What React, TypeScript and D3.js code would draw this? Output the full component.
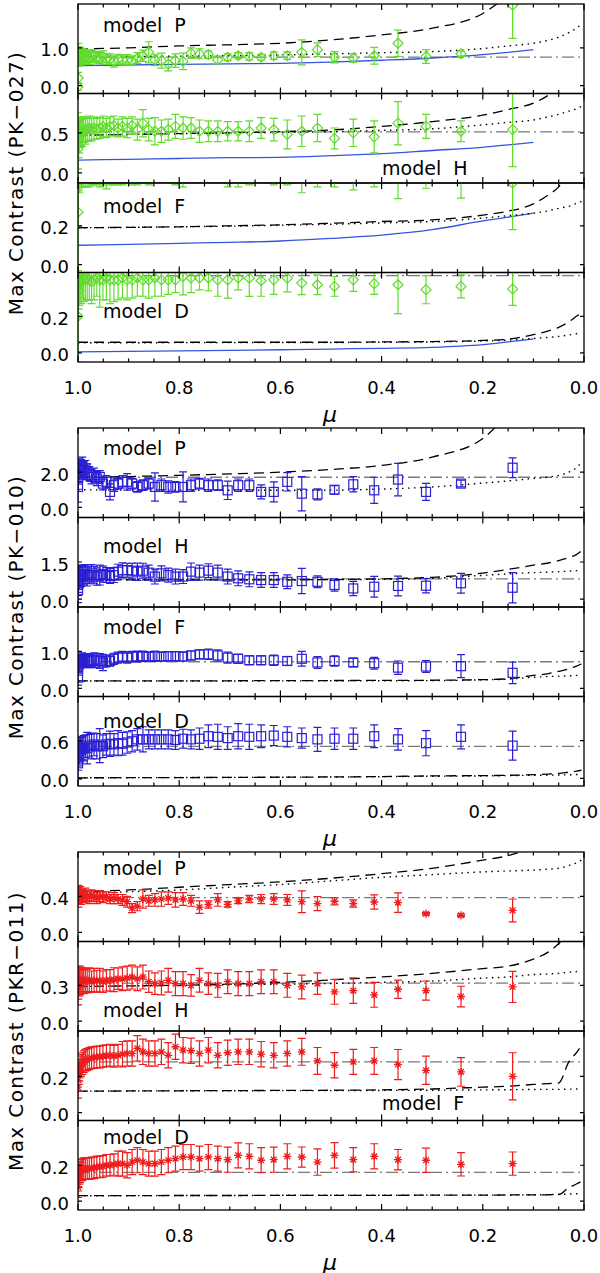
import * as d3 from 'd3';

// limb distance grid of the observed points (mu = cos theta)
const MU = [
  0.99995, 0.99955, 0.99875, 0.99755, 0.99594, 0.99393, 0.99151, 0.98869, 0.98544, 0.98178,
  0.9777, 0.97319, 0.96825, 0.96286, 0.95703, 0.95074, 0.94398, 0.93675, 0.92903, 0.92081,
  0.91209, 0.90283, 0.89303, 0.88267, 0.87172, 0.86017, 0.848, 0.83516, 0.82164, 0.8074,
  0.7924, 0.7766, 0.75993, 0.74236, 0.72381, 0.7042, 0.68345, 0.66144, 0.63805, 0.6131,
  0.58643, 0.55776, 0.52678, 0.49305, 0.45596, 0.41461, 0.36756, 0.31225, 0.2431, 0.14107,
];

// ---- PK-027 (green diamonds)
const PK027_P = [
  -0.03, 0.2, 0.82, 0.77, 0.79, 0.75, 0.77, 0.79, 0.75, 0.77,
  0.73, 0.77, 0.79, 0.75, 0.73, 0.77, 0.7, 0.7, 0.64, 0.7,
  0.68, 0.68, 0.66, 0.73, 0.79, 0.88, 0.68, 0.66, 0.57, 0.66,
  0.64, 0.86, 0.84, 0.82, 0.68, 0.75, 0.79, 0.77, 0.75, 0.79,
  0.79, 0.88, 0.95, 0.75, 0.73, 0.79, 1.12, 0.77, 0.84, 2.13,
];
const PK027_P_ERR = [
  0.1, 0.15, 0.3, 0.25, 0.22, 0.2, 0.2, 0.18, 0.18, 0.17,
  0.17, 0.16, 0.16, 0.15, 0.15, 0.15, 0.14, 0.14, 0.15, 0.13,
  0.13, 0.14, 0.12, 0.14, 0.15, 0.28, 0.15, 0.2, 0.18, 0.18,
  0.22, 0.14, 0.13, 0.1, 0.1, 0.09, 0.08, 0.1, 0.08, 0.1,
  0.1, 0.33, 0.18, 0.15, 0.11, 0.22, 0.35, 0.18, 0.07, 0.88,
];
const PK027_H = [
  0.3, 0.35, 0.41, 0.45, 0.5, 0.52, 0.5, 0.54, 0.52, 0.54,
  0.56, 0.54, 0.56, 0.55, 0.56, 0.58, 0.56, 0.58, 0.59, 0.56,
  0.58, 0.56, 0.59, 0.54, 0.62, 0.54, 0.52, 0.52, 0.54, 0.58,
  0.56, 0.56, 0.52, 0.52, 0.52, 0.52, 0.52, 0.52, 0.56, 0.54,
  0.48, 0.52, 0.56, 0.43, 0.5, 0.45, 0.62, 0.58, 0.52, 0.54,
];
const PK027_H_ERR = [
  0.45, 0.3, 0.22, 0.2, 0.18, 0.18, 0.17, 0.16, 0.16, 0.15,
  0.15, 0.14, 0.14, 0.13, 0.13, 0.13, 0.12, 0.12, 0.12, 0.11,
  0.12, 0.12, 0.11, 0.13, 0.17, 0.14, 0.17, 0.14, 0.13, 0.15,
  0.14, 0.13, 0.14, 0.13, 0.13, 0.12, 0.12, 0.13, 0.13, 0.14,
  0.18, 0.19, 0.17, 0.13, 0.17, 0.2, 0.27, 0.15, 0.13, 0.46,
];
const PK027_F = [
  0.27, 0.4, 0.52, 0.49, 0.51, 0.53, 0.5, 0.52, 0.54, 0.51,
  0.5, 0.53, 0.52, 0.5, 0.52, 0.51, 0.53, 0.52, 0.5, 0.51,
  0.53, 0.52, 0.5, 0.52, 0.54, 0.51, 0.5, 0.53, 0.52, 0.5,
  0.52, 0.51, 0.53, 0.52, 0.5, 0.51, 0.52, 0.5, 0.53, 0.51,
  0.52, 0.52, 0.5, 0.5, 0.5, 0.52, 0.55, 0.5, 0.5, 0.42,
];
const PK027_F_ERR = [
  0.3, 0.2, 0.14, 0.12, 0.11, 0.13, 0.1, 0.12, 0.14, 0.11,
  0.1, 0.12, 0.11, 0.09, 0.12, 0.1, 0.14, 0.11, 0.09, 0.1,
  0.12, 0.1, 0.09, 0.11, 0.12, 0.1, 0.08, 0.11, 0.1, 0.09,
  0.12, 0.09, 0.11, 0.1, 0.08, 0.11, 0.12, 0.09, 0.11, 0.1,
  0.11, 0.15, 0.1, 0.1, 0.115, 0.12, 0.21, 0.107, 0.158, 0.24,
];
const PK027_D = [
  0.2, 0.34, 0.38, 0.39, 0.4, 0.39, 0.41, 0.4, 0.4, 0.41,
  0.4, 0.39, 0.4, 0.41, 0.4, 0.4, 0.41, 0.4, 0.4, 0.4,
  0.41, 0.4, 0.4, 0.41, 0.4, 0.4, 0.41, 0.4, 0.4, 0.4,
  0.418, 0.41, 0.41, 0.41, 0.4, 0.4, 0.41, 0.409, 0.395, 0.4,
  0.409, 0.382, 0.373, 0.364, 0.4, 0.379, 0.373, 0.346, 0.364, 0.35,
];
const PK027_D_ERR = [
  0.25, 0.15, 0.14, 0.13, 0.12, 0.12, 0.11, 0.12, 0.11, 0.12,
  0.11, 0.12, 0.11, 0.1, 0.15, 0.11, 0.12, 0.13, 0.12, 0.11,
  0.11, 0.11, 0.1, 0.1, 0.09, 0.1, 0.1, 0.09, 0.08, 0.07,
  0.1, 0.08, 0.065, 0.07, 0.09, 0.1, 0.065, 0.1, 0.085, 0.08,
  0.075, 0.063, 0.054, 0.054, 0.063, 0.059, 0.158, 0.077, 0.063, 0.09,
];

// ---- PK-010 (blue squares)
const PK010_P = [
  1.16, 1.73, 1.92, 2.11, 2.3, 2.21, 2.3, 2.11, 2.21, 2.02,
  1.92, 1.73, 1.83, 1.64, 1.73, 1.35, 1.45, 0.88, 1.26, 1.35,
  1.45, 1.45, 1.35, 1.16, 1.26, 1.35, 1.16, 1.26, 1.16, 1.16,
  1.16, 1.26, 1.35, 1.26, 1.26, 0.97, 1.26, 1.26, 0.88, 0.88,
  1.45, 0.78, 0.74, 1.0, 1.31, 0.97, 1.58, 0.88, 1.35, 2.25,
];
const PK010_P_ERR = [
  0.86, 0.7, 0.6, 0.55, 0.5, 0.5, 0.55, 0.5, 0.45, 0.45,
  0.4, 0.4, 0.4, 0.4, 0.35, 0.35, 0.35, 0.45, 0.35, 0.3,
  0.35, 0.47, 0.3, 0.3, 0.3, 0.3, 0.8, 0.35, 0.35, 0.3,
  0.85, 0.35, 0.3, 0.35, 0.3, 0.52, 0.35, 0.35, 0.4, 0.57,
  0.52, 0.97, 0.31, 0.24, 0.43, 0.74, 0.92, 0.48, 0.19, 0.56,
];
const PK010_H = [
  0.36, 0.64, 0.77, 0.84, 0.91, 0.91, 0.97, 0.97, 1.01, 0.91,
  0.97, 1.04, 0.97, 0.91, 0.97, 1.01, 0.97, 0.93, 0.97, 1.11,
  1.17, 1.17, 1.15, 1.11, 1.15, 1.07, 0.91, 1.04, 0.97, 0.91,
  0.91, 1.11, 1.07, 1.15, 1.07, 0.91, 0.84, 0.8, 0.77, 0.77,
  0.7, 0.73, 0.7, 0.57, 0.43, 0.5, 0.53, 0.54, 0.64, 0.46,
];
const PK010_H_ERR = [
  0.5, 0.5, 0.5, 0.45, 0.45, 0.4, 0.4, 0.4, 0.38, 0.38,
  0.35, 0.35, 0.35, 0.35, 0.4, 0.32, 0.3, 0.3, 0.3, 0.3,
  0.3, 0.28, 0.3, 0.35, 0.3, 0.3, 0.3, 0.3, 0.28, 0.3,
  0.28, 0.35, 0.3, 0.28, 0.3, 0.3, 0.3, 0.3, 0.3, 0.3,
  0.28, 0.51, 0.24, 0.25, 0.29, 0.42, 0.4, 0.29, 0.4, 0.61,
];
const PK010_F = [
  0.29, 0.56, 0.65, 0.7, 0.74, 0.74, 0.78, 0.76, 0.74, 0.76,
  0.74, 0.76, 0.76, 0.78, 0.74, 0.7, 0.74, 0.74, 0.8, 0.83,
  0.86, 0.83, 0.86, 0.86, 0.87, 0.86, 0.87, 0.86, 0.87, 0.87,
  0.86, 0.89, 0.92, 0.92, 0.89, 0.83, 0.8, 0.76, 0.76, 0.76,
  0.74, 0.8, 0.7, 0.74, 0.7, 0.68, 0.56, 0.59, 0.6, 0.42,
];
const PK010_F_ERR = [
  0.2, 0.2, 0.2, 0.2, 0.18, 0.18, 0.18, 0.17, 0.18, 0.17,
  0.18, 0.17, 0.2, 0.17, 0.2, 0.22, 0.16, 0.14, 0.15, 0.15,
  0.14, 0.15, 0.14, 0.15, 0.14, 0.12, 0.14, 0.12, 0.12, 0.12,
  0.12, 0.12, 0.12, 0.14, 0.15, 0.15, 0.12, 0.12, 0.12, 0.14,
  0.12, 0.2, 0.16, 0.14, 0.11, 0.16, 0.18, 0.16, 0.31, 0.29,
];
const PK010_D = [
  0.24, 0.35, 0.4, 0.43, 0.46, 0.47, 0.48, 0.48, 0.51, 0.48,
  0.52, 0.51, 0.54, 0.51, 0.52, 0.51, 0.54, 0.55, 0.54, 0.56,
  0.55, 0.57, 0.59, 0.62, 0.62, 0.62, 0.62, 0.62, 0.62, 0.61,
  0.63, 0.62, 0.63, 0.67, 0.66, 0.64, 0.67, 0.66, 0.67, 0.68,
  0.66, 0.64, 0.62, 0.63, 0.63, 0.67, 0.62, 0.56, 0.66, 0.52,
];
const PK010_D_ERR = [
  0.25, 0.22, 0.2, 0.2, 0.2, 0.18, 0.18, 0.2, 0.18, 0.25,
  0.18, 0.2, 0.18, 0.2, 0.27, 0.18, 0.17, 0.2, 0.17, 0.2,
  0.18, 0.17, 0.17, 0.17, 0.2, 0.15, 0.15, 0.15, 0.15, 0.15,
  0.15, 0.15, 0.17, 0.18, 0.2, 0.18, 0.2, 0.2, 0.18, 0.16,
  0.16, 0.16, 0.19, 0.17, 0.17, 0.18, 0.17, 0.2, 0.19, 0.23,
];

// ---- PKR-011 (red asterisks)
const PKR011_P = [
  0.42, 0.38, 0.41, 0.4, 0.43, 0.39, 0.41, 0.4, 0.42, 0.4,
  0.39, 0.41, 0.4, 0.38, 0.4, 0.39, 0.4, 0.37, 0.38, 0.37,
  0.36, 0.34, 0.27, 0.29, 0.37, 0.35, 0.36, 0.37, 0.38, 0.36,
  0.37, 0.35, 0.28, 0.31, 0.36, 0.31, 0.35, 0.37, 0.37, 0.37,
  0.36, 0.34, 0.32, 0.345, 0.32, 0.337, 0.33, 0.207, 0.19, 0.244,
];
const PKR011_P_ERR = [
  0.1, 0.1, 0.09, 0.09, 0.08, 0.08, 0.07, 0.07, 0.07, 0.06,
  0.07, 0.06, 0.06, 0.06, 0.06, 0.06, 0.05, 0.05, 0.06, 0.05,
  0.06, 0.06, 0.05, 0.05, 0.1, 0.06, 0.07, 0.08, 0.07, 0.08,
  0.07, 0.06, 0.07, 0.04, 0.07, 0.03, 0.03, 0.04, 0.05, 0.06,
  0.06, 0.12, 0.078, 0.04, 0.04, 0.078, 0.107, 0.015, 0.015, 0.126,
];
const PKR011_H = [
  0.286, 0.314, 0.33, 0.342, 0.33, 0.342, 0.347, 0.33, 0.342, 0.336,
  0.347, 0.33, 0.342, 0.336, 0.342, 0.33, 0.342, 0.342, 0.347, 0.355,
  0.355, 0.36, 0.369, 0.355, 0.369, 0.33, 0.314, 0.32, 0.342, 0.314,
  0.314, 0.3, 0.342, 0.314, 0.3, 0.33, 0.314, 0.314, 0.33, 0.33,
  0.3, 0.286, 0.314, 0.245, 0.256, 0.22, 0.267, 0.256, 0.206, 0.286,
];
const PKR011_H_ERR = [
  0.15, 0.13, 0.12, 0.12, 0.11, 0.11, 0.1, 0.1, 0.1, 0.1,
  0.1, 0.09, 0.1, 0.09, 0.1, 0.09, 0.09, 0.09, 0.1, 0.09,
  0.1, 0.1, 0.1, 0.1, 0.1, 0.09, 0.09, 0.1, 0.1, 0.1,
  0.1, 0.09, 0.1, 0.09, 0.1, 0.1, 0.1, 0.1, 0.1, 0.1,
  0.1, 0.1, 0.09, 0.104, 0.107, 0.104, 0.076, 0.08, 0.086, 0.13,
];
const PKR011_F = [
  0.14, 0.178, 0.215, 0.233, 0.252, 0.261, 0.27, 0.28, 0.289, 0.293,
  0.298, 0.302, 0.304, 0.307, 0.307, 0.311, 0.313, 0.316, 0.311, 0.316,
  0.322, 0.326, 0.326, 0.354, 0.335, 0.326, 0.326, 0.335, 0.316, 0.363,
  0.344, 0.341, 0.326, 0.344, 0.316, 0.33, 0.335, 0.335, 0.322, 0.316,
  0.326, 0.335, 0.285, 0.261, 0.28, 0.285, 0.265, 0.233, 0.224, 0.2,
];
const PKR011_F_ERR = [
  0.06, 0.06, 0.06, 0.06, 0.06, 0.06, 0.06, 0.06, 0.06, 0.06,
  0.06, 0.06, 0.06, 0.06, 0.06, 0.06, 0.06, 0.06, 0.06, 0.06,
  0.07, 0.07, 0.07, 0.07, 0.07, 0.07, 0.07, 0.07, 0.07, 0.07,
  0.07, 0.07, 0.07, 0.07, 0.07, 0.07, 0.07, 0.07, 0.07, 0.07,
  0.07, 0.074, 0.074, 0.07, 0.069, 0.074, 0.083, 0.078, 0.079, 0.13,
];
const PKR011_D = [
  0.08, 0.117, 0.135, 0.154, 0.163, 0.172, 0.176, 0.181, 0.181, 0.181,
  0.181, 0.185, 0.185, 0.191, 0.191, 0.194, 0.2, 0.2, 0.204, 0.209,
  0.209, 0.2, 0.218, 0.228, 0.218, 0.209, 0.209, 0.218, 0.228, 0.237,
  0.246, 0.246, 0.237, 0.246, 0.237, 0.231, 0.255, 0.25, 0.228, 0.231,
  0.25, 0.246, 0.218, 0.255, 0.231, 0.25, 0.231, 0.228, 0.205, 0.209,
];
const PKR011_D_ERR = [
  0.06, 0.06, 0.06, 0.06, 0.06, 0.06, 0.06, 0.06, 0.06, 0.06,
  0.06, 0.06, 0.06, 0.06, 0.06, 0.06, 0.06, 0.06, 0.06, 0.07,
  0.07, 0.07, 0.07, 0.07, 0.07, 0.07, 0.07, 0.07, 0.07, 0.07,
  0.07, 0.07, 0.07, 0.07, 0.07, 0.07, 0.07, 0.07, 0.07, 0.07,
  0.07, 0.056, 0.074, 0.071, 0.068, 0.07, 0.057, 0.068, 0.065, 0.065,
];

// ---- model curves, sampled on a common mu grid
const MODEL_MU = [1.0, 0.9, 0.8, 0.7, 0.6, 0.5, 0.4, 0.3, 0.2, 0.15, 0.1, 0.07, 0.05, 0.03, 0.015, 0.005];

const PK027_P_DASH = [0.97, 1.0, 1.05, 1.08, 1.12, 1.21, 1.34, 1.52, 1.91, 2.4, 3.0, 3.5, 4.0, 4.5, 5.0, 5.5];
const PK027_P_DOT = [0.76, 0.77, 0.78, 0.79, 0.81, 0.84, 0.87, 0.9, 0.98, 1.05, 1.12, 1.2, 1.28, 1.4, 1.52, 1.62];
const PK027_P_SOLID = [0.53, 0.545, 0.56, 0.575, 0.59, 0.62, 0.67, 0.73, 0.82, 0.88, 0.95, null, null, null, null, null];
const PK027_H_DASH = [0.47, 0.48, 0.49, 0.5, 0.515, 0.535, 0.58, 0.64, 0.72, 0.79, 0.87, 0.97, 1.06, 1.2, 1.4, 1.6];
const PK027_H_DOT = [0.47, 0.48, 0.49, 0.5, 0.505, 0.515, 0.53, 0.55, 0.6, 0.63, 0.66, 0.7, 0.73, 0.77, 0.8, 0.83];
const PK027_H_SOLID = [0.16, 0.17, 0.18, 0.19, 0.195, 0.215, 0.24, 0.28, 0.32, 0.35, 0.38, null, null, null, null, null];
const PK027_F_DASH = [0.19, 0.192, 0.195, 0.2, 0.205, 0.213, 0.222, 0.23, 0.255, 0.275, 0.313, 0.36, 0.4, 0.48, 0.55, 0.6];
const PK027_F_DOT = [0.19, 0.192, 0.195, 0.198, 0.203, 0.208, 0.215, 0.222, 0.24, 0.252, 0.265, 0.277, 0.29, 0.3, 0.315, 0.325];
const PK027_F_SOLID = [0.1, 0.105, 0.11, 0.115, 0.122, 0.135, 0.152, 0.18, 0.225, 0.245, 0.265, null, null, null, null, null];
const PK027_D_DASH = [0.058, 0.058, 0.058, 0.058, 0.058, 0.058, 0.06, 0.062, 0.068, 0.075, 0.1, 0.12, 0.14, 0.17, 0.2, 0.22];
const PK027_D_DOT = [0.055, 0.055, 0.056, 0.056, 0.057, 0.057, 0.058, 0.06, 0.065, 0.07, 0.079, 0.085, 0.09, 0.098, 0.105, 0.11];
const PK027_D_SOLID = [0.005, 0.008, 0.011, 0.014, 0.017, 0.021, 0.025, 0.03, 0.045, 0.06, 0.076, null, null, null, null, null];

const PK010_P_DASH = [1.68, 1.75, 1.82, 1.9, 2.0, 2.15, 2.38, 2.85, 3.9, 5.2, 6.0, 6.5, 7.0, 7.5, 8.0, 8.5];
const PK010_P_DOT = [1.0, 0.99, 0.98, 0.97, 0.97, 0.98, 1.04, 1.16, 1.38, 1.5, 1.64, 1.72, 1.82, 2.0, 2.25, 2.55];
const PK010_H_DASH = [0.78, 0.78, 0.78, 0.78, 0.78, 0.79, 0.82, 0.88, 1.05, 1.2, 1.37, 1.46, 1.56, 1.68, 1.8, 1.95];
const PK010_H_DOT = [0.78, 0.78, 0.78, 0.78, 0.78, 0.79, 0.8, 0.84, 0.96, 1.02, 1.07, 1.09, 1.11, 1.13, 1.15, 1.17];
const PK010_F_DASH = [0.2, 0.2, 0.2, 0.205, 0.21, 0.212, 0.215, 0.22, 0.235, 0.26, 0.35, 0.4, 0.46, 0.53, 0.6, 0.66];
const PK010_F_DOT = [0.2, 0.2, 0.2, 0.2, 0.202, 0.204, 0.206, 0.21, 0.23, 0.25, 0.3, 0.32, 0.33, 0.34, 0.35, 0.36];
const PK010_D_DASH = [0.01, 0.012, 0.014, 0.016, 0.02, 0.024, 0.03, 0.04, 0.045, 0.05, 0.06, 0.07, 0.08, 0.1, 0.115, 0.13];
const PK010_D_DOT = [0.01, 0.012, 0.014, 0.016, 0.019, 0.022, 0.028, 0.035, 0.04, 0.045, 0.05, 0.052, 0.055, 0.058, 0.062, 0.065];

const PKR011_P_DASH = [0.45, 0.47, 0.5, 0.53, 0.56, 0.6, 0.65, 0.71, 0.8, 0.85, 0.95, 1.05, 1.2, 1.4, 1.6, 1.8];
const PKR011_P_DOT = [0.43, 0.45, 0.47, 0.5, 0.53, 0.57, 0.61, 0.64, 0.67, 0.68, 0.69, 0.7, 0.71, 0.74, 0.77, 0.8];
const PKR011_H_DASH = [0.29, 0.295, 0.3, 0.31, 0.325, 0.345, 0.37, 0.4, 0.44, 0.46, 0.52, 0.58, 0.65, 0.75, 0.85, 0.95];
const PKR011_H_DOT = [0.29, 0.295, 0.3, 0.305, 0.31, 0.315, 0.325, 0.335, 0.36, 0.37, 0.39, 0.395, 0.4, 0.41, 0.415, 0.425];
const PKR011_F_DASH = [0.118, 0.119, 0.12, 0.121, 0.122, 0.123, 0.125, 0.13, 0.14, 0.145, 0.155, 0.16, 0.163, 0.28, 0.33, 0.37];
const PKR011_F_DOT = [0.118, 0.119, 0.12, 0.12, 0.121, 0.121, 0.122, 0.123, 0.125, 0.126, 0.127, 0.128, 0.128, 0.129, 0.13, 0.132];
const PKR011_D_DASH = [0.03, 0.03, 0.031, 0.031, 0.032, 0.032, 0.032, 0.033, 0.033, 0.034, 0.034, 0.035, 0.037, 0.075, 0.095, 0.11];
const PKR011_D_DOT = [0.03, 0.03, 0.031, 0.031, 0.032, 0.032, 0.032, 0.033, 0.033, 0.034, 0.035, 0.036, 0.037, 0.039, 0.041, 0.042];

// mean observed contrast per panel (grey dash-dot)
const PK027_MEAN = [0.754, 0.512, 0.5, 0.423];
const PK010_MEAN = [1.71, 0.82, 0.72, 0.509];
const PKR011_MEAN = [0.385, 0.319, 0.28, 0.16];

// y ranges and labelled y tick per panel (P, H, F, D)
const PK027_YRANGE: [number, number][] = [[-0.21, 2.16], [-0.125, 0.99], [-0.04, 0.42], [-0.05, 0.44]];
const PK010_YRANGE: [number, number][] = [[-0.57, 4.5], [-0.32, 3.3], [-0.22, 2.2], [-0.12, 1.3]];
const PKR011_YRANGE: [number, number][] = [[-0.1, 0.89], [-0.083, 0.667], [-0.044, 0.45], [-0.05, 0.45]];
const PK027_YTICK = [1.0, 0.5, 0.2, 0.2];
const PK010_YTICK = [2.0, 1.5, 1.0, 0.6];
const PKR011_YTICK = [0.4, 0.3, 0.2, 0.2];

const MODELS = ['P', 'H', 'F', 'D'];
const X_TICKS = [1.0, 0.8, 0.6, 0.4, 0.2, 0.0];

// layout
const W = 600;
const H = 1273;
const X0 = 78;
const X1 = 584;
const PANEL_H = 89.5;
const GROUP_TOP = [4, 428, 852];
// model label position: [x, baseline offset from panel top]
const LABEL_POS = [
  [[103, 27.7], [382, 81.5], [103, 30.3], [103, 45.8]],
  [[103, 27], [103, 35.8], [103, 27.3], [103, 31.2]],
  [[103, 23], [103, 75.2], [382, 79], [103, 23.5]],
];

const GREEN = '#5fdc2a';
const BLUE_PT = '#2b1fd4';
const RED = '#ee1c1c';
const BLUE_LINE = '#3355dd';
const GREY = '#7a7a7a';
const FONT = '"DejaVu Sans", sans-serif';

const zip = (a: number[], b: (number | null)[]) => a.map((m, i) => [m, b[i]] as [number, number | null]);

const GROUPS = [
  {
    title: 'Max Contrast (PK−027)',
    color: GREEN,
    marker: 'diamond',
    mean: PK027_MEAN,
    yrange: PK027_YRANGE,
    ytick: PK027_YTICK,
    vals: [PK027_P, PK027_H, PK027_F, PK027_D],
    errs: [PK027_P_ERR, PK027_H_ERR, PK027_F_ERR, PK027_D_ERR],
    dash: [PK027_P_DASH, PK027_H_DASH, PK027_F_DASH, PK027_D_DASH],
    dot: [PK027_P_DOT, PK027_H_DOT, PK027_F_DOT, PK027_D_DOT],
    solid: [PK027_P_SOLID, PK027_H_SOLID, PK027_F_SOLID, PK027_D_SOLID],
  },
  {
    title: 'Max Contrast (PK−010)',
    color: BLUE_PT,
    marker: 'square',
    mean: PK010_MEAN,
    yrange: PK010_YRANGE,
    ytick: PK010_YTICK,
    vals: [PK010_P, PK010_H, PK010_F, PK010_D],
    errs: [PK010_P_ERR, PK010_H_ERR, PK010_F_ERR, PK010_D_ERR],
    dash: [PK010_P_DASH, PK010_H_DASH, PK010_F_DASH, PK010_D_DASH],
    dot: [PK010_P_DOT, PK010_H_DOT, PK010_F_DOT, PK010_D_DOT],
    solid: null,
  },
  {
    title: 'Max Contrast (PKR−011)',
    color: RED,
    marker: 'asterisk',
    mean: PKR011_MEAN,
    yrange: PKR011_YRANGE,
    ytick: PKR011_YTICK,
    vals: [PKR011_P, PKR011_H, PKR011_F, PKR011_D],
    errs: [PKR011_P_ERR, PKR011_H_ERR, PKR011_F_ERR, PKR011_D_ERR],
    dash: [PKR011_P_DASH, PKR011_H_DASH, PKR011_F_DASH, PKR011_D_DASH],
    dot: [PKR011_P_DOT, PKR011_H_DOT, PKR011_F_DOT, PKR011_D_DOT],
    solid: null,
  },
];

function Marker({ kind, cx, cy, color }: { kind: string; cx: number; cy: number; color: string }) {
  if (kind === 'diamond') {
    const r = 5;
    return <path d={`M${cx},${cy - r}L${cx + r},${cy}L${cx},${cy + r}L${cx - r},${cy}Z`} fill="none" stroke={color} strokeWidth={1.2} />;
  }
  if (kind === 'square') {
    const r = 4.5;
    return <rect x={cx - r} y={cy - r} width={2 * r} height={2 * r} fill="none" stroke={color} strokeWidth={1.2} />;
  }
  const r = 4;
  const q = r * 0.72;
  return (
    <path
      d={`M${cx - r},${cy}H${cx + r}M${cx},${cy - r}V${cy + r}M${cx - q},${cy - q}L${cx + q},${cy + q}M${cx - q},${cy + q}L${cx + q},${cy - q}`}
      stroke={color}
      strokeWidth={1.3}
    />
  );
}

export default function App() {
  const x = d3.scaleLinear().domain([1, 0]).range([X0, X1]);
  const minor = d3.range(0, 21).map((k) => k * 0.05);
  const fmt = d3.format('.1f');

  return (
    <svg width={W} height={H} style={{ position: 'absolute', left: 0, top: 0, background: '#fff' }} fontFamily={FONT}>
      <rect width={W} height={H} fill="#fff" />
      {GROUPS.map((g, gi) => {
        const gTop = GROUP_TOP[gi];
        const gBot = gTop + 4 * PANEL_H;
        return (
          <g key={gi}>
            {MODELS.map((model, pi) => {
              const top = gTop + pi * PANEL_H;
              const bot = top + PANEL_H;
              const y = d3.scaleLinear().domain(g.yrange[pi]).range([bot, top]);
              const clipId = `clip-${gi}-${pi}`;
              const line = d3
                .line<[number, number | null]>()
                .defined((d) => d[1] != null)
                .x((d) => x(d[0]))
                .y((d) => y(d[1] as number))
                .curve(d3.curveMonotoneX);
              const vals = g.vals[pi];
              const errs = g.errs[pi];
              const [lx, ly] = LABEL_POS[gi][pi];
              return (
                <g key={pi}>
                  <defs>
                    <clipPath id={clipId}>
                      <rect x={X0} y={top} width={X1 - X0} height={PANEL_H} />
                    </clipPath>
                  </defs>
                  <g clipPath={`url(#${clipId})`}>
                    <line x1={X0} x2={X1} y1={y(g.mean[pi])} y2={y(g.mean[pi])} stroke={GREY} strokeWidth={1.3} strokeDasharray="12,4,2,4" />
                    {g.solid && <path d={line(zip(MODEL_MU, g.solid[pi])) || ''} fill="none" stroke={BLUE_LINE} strokeWidth={1.3} />}
                    <path d={line(zip(MODEL_MU, g.dash[pi])) || ''} fill="none" stroke="#000" strokeWidth={1.3} strokeDasharray="10,6" />
                    <path d={line(zip(MODEL_MU, g.dot[pi])) || ''} fill="none" stroke="#000" strokeWidth={1.4} strokeDasharray="1.5,4.5" />
                    {MU.map((m, i) => {
                      const cx = x(m);
                      const cy = y(vals[i]);
                      const y1 = y(vals[i] + errs[i]);
                      const y2 = y(vals[i] - errs[i]);
                      return (
                        <g key={i}>
                          <path d={`M${cx},${y1}V${y2}M${cx - 4},${y1}H${cx + 4}M${cx - 4},${y2}H${cx + 4}`} stroke={g.color} strokeWidth={1.2} fill="none" />
                          <Marker kind={g.marker} cx={cx} cy={cy} color={g.color} />
                        </g>
                      );
                    })}
                  </g>
                  {/* frame */}
                  <rect x={X0} y={top} width={X1 - X0} height={PANEL_H} fill="none" stroke="#000" strokeWidth={1.3} />
                  {/* x ticks, top and bottom, inward */}
                  {minor.map((m, k) => {
                    const len = k % 4 === 0 ? 6 : 3.5;
                    const tx = x(m);
                    return (
                      <path key={k} d={`M${tx},${top}v${len}M${tx},${bot}v${-len}`} stroke="#000" strokeWidth={1.2} />
                    );
                  })}
                  {/* y ticks */}
                  {[0, g.ytick[pi]].map((t, k) => (
                    <g key={k}>
                      <path d={`M${X0},${y(t)}h4M${X1},${y(t)}h-4`} stroke="#000" strokeWidth={1.2} />
                      <text x={69} y={y(t) + 2} textAnchor="end" dominantBaseline="central" fontSize={18} fill="#000">
                        {fmt(t)}
                      </text>
                    </g>
                  ))}
                  <text x={lx} y={top + ly} fontSize={19} fill="#000" style={{ whiteSpace: 'pre' }}>
                    {`model  ${model}`}
                  </text>
                </g>
              );
            })}
            {X_TICKS.map((t) => (
              <text key={t} x={x(t)} y={gBot + 25} textAnchor="middle" dominantBaseline="central" fontSize={18} fill="#000">
                {fmt(t)}
              </text>
            ))}
            <text x={330} y={gBot + 52} textAnchor="middle" dominantBaseline="central" fontSize={22} fontStyle="italic" fill="#000">
              μ
            </text>
            <text
              transform={`translate(16,${(gTop + gBot) / 2}) rotate(-90)`}
              textAnchor="middle"
              dominantBaseline="central"
              fontSize={20}
              letterSpacing={1.4}
              fill="#000"
              style={{ whiteSpace: 'pre' }}
            >
              {g.title}
            </text>
          </g>
        );
      })}
    </svg>
  );
}
